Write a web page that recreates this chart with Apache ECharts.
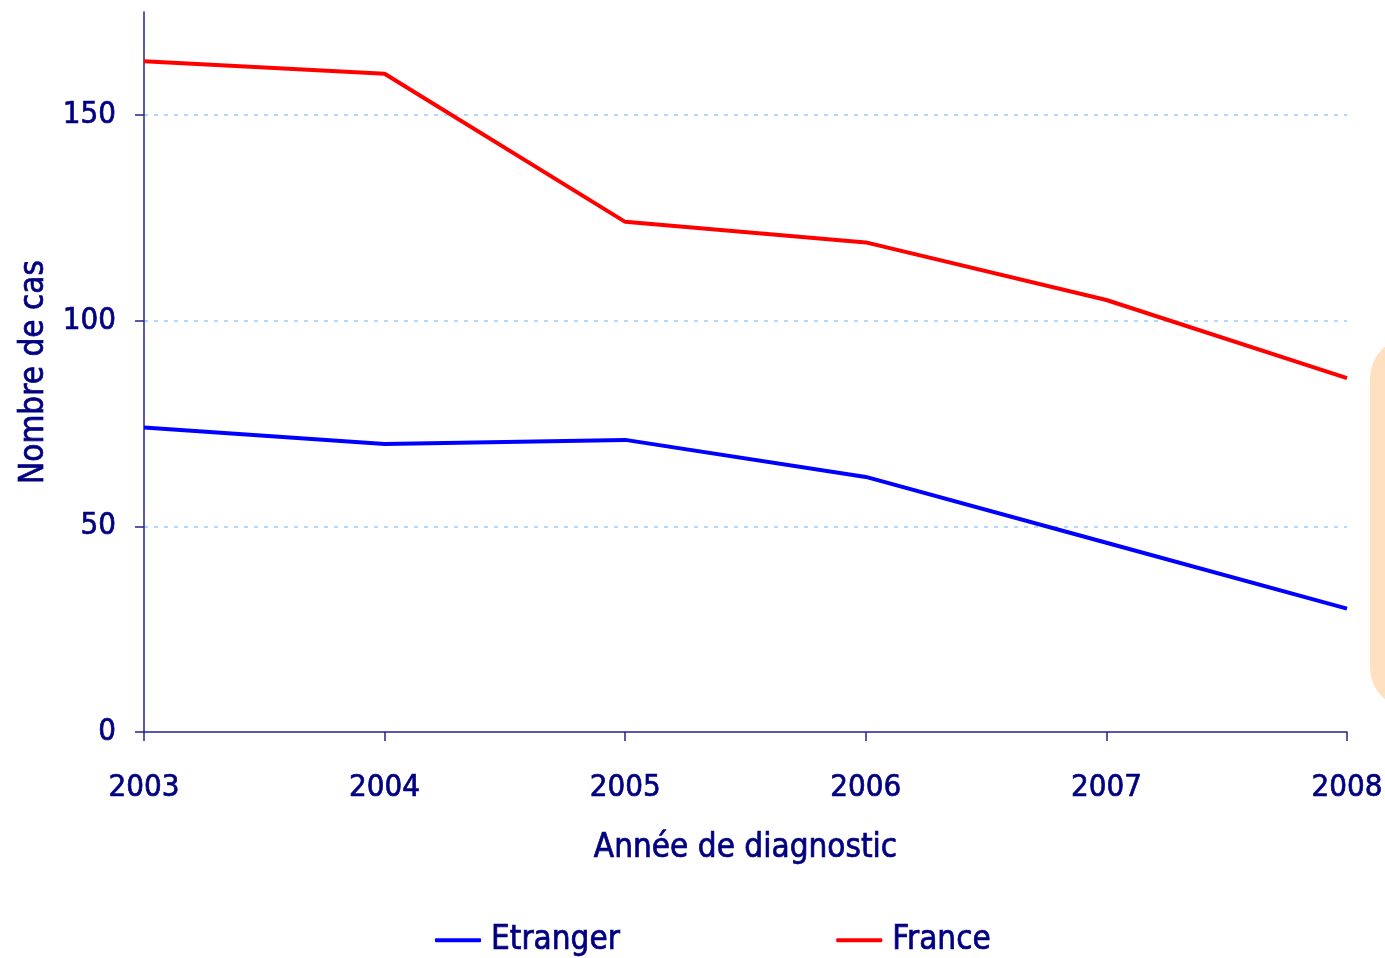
<!DOCTYPE html>
<html>
<head>
<meta charset="utf-8">
<script src="https://cdn.jsdelivr.net/npm/echarts@6/dist/echarts.min.js"></script>
<style>
    html, body { margin: 0; padding: 0; background: #fff; }
    #chart { width: 1385px; height: 958px; }
</style>
</head>
<body>
<div id="chart"></div>
<script>
// données
var years = ['2003', '2004', '2005', '2006', '2007', '2008'];
var etranger = [74, 70, 71, 62, 46, 30];
var france = [163, 160, 124, 119, 105, 86];
var yTicks = [0, 50, 100, 150];

var FONT = '"Liberation Sans Narrow", "DejaVu Sans Condensed", "Liberation Sans", sans-serif';
var NAVY = '#000080';
var AXIS = '#23238a';

// texte un peu plus gras
function txt(size) {
    return { fontFamily: FONT, fontSize: size, color: NAVY, textBorderColor: NAVY, textBorderWidth: 0.7 };
}

var myChart = echarts.init(document.getElementById('chart'));
myChart.setOption({
    animation: false,
    grid: { left: 144, right: 38, top: 12, bottom: 226, containLabel: false, outerBoundsMode: 'none' },
    // forme orange à droite
    graphic: [{
        type: 'rect',
        shape: { x: 1370, y: 338, width: 120, height: 370, r: 40 },
        style: { fill: '#ffe0c0' },
        z: -1
    }],
    legend: {
        bottom: 1,
        left: 435,
        padding: 0,
        itemWidth: 46,
        itemHeight: 4,
        itemGap: 216,
        icon: 'roundRect',
        textStyle: Object.assign({ padding: [0, 0, 0, 5] }, txt(33)),
        data: ['Etranger', 'France']
    },
    xAxis: {
        type: 'category',
        data: years,
        boundaryGap: false,
        name: 'Année de diagnostic',
        nameLocation: 'middle',
        nameGap: 100,
        nameTextStyle: txt(33),
        axisLine: { lineStyle: { color: AXIS, width: 1.5 } },
        axisTick: { alignWithLabel: true, length: 9, lineStyle: { color: AXIS, width: 1.5 } },
        axisLabel: Object.assign({ margin: 40, showMaxLabel: true }, txt(31))
    },
    yAxis: {
        type: 'value',
        min: 0,
        max: 175,
        interval: 25,
        name: 'Nombre de cas',
        nameLocation: 'middle',
        nameGap: 92,
        nameTextStyle: txt(33),
        axisLine: { show: true, lineStyle: { color: AXIS, width: 1.5 } },
        axisTick: { show: true, length: 9, customValues: yTicks, lineStyle: { color: AXIS, width: 1.5 } },
        axisLabel: Object.assign({ margin: 28, customValues: yTicks }, txt(31)),
        splitLine: {
            show: true,
            showMinLine: false,
            lineStyle: { color: '#99ccff', type: [4, 6], width: 1.5 }
        }
    },
    series: [{
        name: 'Etranger',
        type: 'line',
        data: etranger,
        showSymbol: false,
        lineStyle: { color: '#0000ff', width: 4 },
        itemStyle: { color: '#0000ff' }
    }, {
        name: 'France',
        type: 'line',
        data: france,
        showSymbol: false,
        lineStyle: { color: '#ff0000', width: 4 },
        itemStyle: { color: '#ff0000' }
    }]
});
</script>
</body>
</html>
